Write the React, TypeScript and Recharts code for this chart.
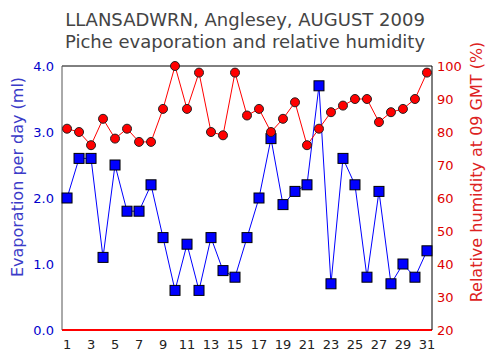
import {
  ComposedChart,
  Line,
  XAxis,
  YAxis,
  ReferenceLine,
} from 'recharts';

const days = [
  1, 2, 3, 4, 5, 6, 7, 8, 9, 10, 11, 12, 13, 14, 15, 16,
  17, 18, 19, 20, 21, 22, 23, 24, 25, 26, 27, 28, 29, 30, 31,
];

const evaporation = [
  2.0, 2.6, 2.6, 1.1, 2.5, 1.8, 1.8, 2.2, 1.4, 0.6, 1.3, 0.6, 1.4, 0.9, 0.8, 1.4,
  2.0, 2.9, 1.9, 2.1, 2.2, 3.7, 0.7, 2.6, 2.2, 0.8, 2.1, 0.7, 1.0, 0.8, 1.2,
];

const humidity = [
  81, 80, 76, 84, 78, 81, 77, 77, 87, 100, 87, 98, 80, 79, 98, 85,
  87, 80, 84, 89, 76, 81, 86, 88, 90, 90, 83, 86, 87, 90, 98,
];

const dayTicks = [1, 3, 5, 7, 9, 11, 13, 15, 17, 19, 21, 23, 25, 27, 29, 31];
const evapTicks = [0, 1, 2, 3, 4];
const rhTicks = [20, 30, 40, 50, 60, 70, 80, 90, 100];

const data = days.map((day, i) => ({
  day,
  evap: evaporation[i],
  rh: humidity[i],
}));

const FONT = '"DejaVu Sans", Verdana, sans-serif';

function SquareDot(props: any) {
  const { cx, cy } = props;
  if (cx == null || cy == null) return null;
  return (
    <rect x={cx - 5} y={cy - 5} width={10} height={10} fill="#0000ff" stroke="#000" strokeWidth={1} />
  );
}

function RoundDot(props: any) {
  const { cx, cy } = props;
  if (cx == null || cy == null) return null;
  return <circle cx={cx} cy={cy} r={4.5} fill="#ff0000" stroke="#222" strokeWidth={1} />;
}

export default function App() {
  return (
    <div style={{ position: 'absolute', left: 0, top: 0, width: 501, height: 360, background: '#fff' }}>
      <div
        style={{
          position: 'absolute',
          left: 0,
          top: 9,
          width: 490,
          textAlign: 'center',
          fontFamily: FONT,
          fontSize: 18,
          lineHeight: '22px',
          color: '#444',
        }}
      >
        LLANSADWRN, Anglesey, AUGUST 2009
        <br />
        Piche evaporation and relative humidity
      </div>
      <ComposedChart
        width={501}
        height={360}
        data={data}
        margin={{ top: 66, right: 0, bottom: 0, left: 0 }}
        style={{ position: 'absolute', left: 0, top: 0 }}
      >
        <XAxis
          dataKey="day"
          type="number"
          domain={[0.58, 31.42]}
          ticks={dayTicks}
          interval={0}
          height={30}
          tickLine={false}
          axisLine={{ stroke: '#ff0000', strokeWidth: 2 }}
          tick={{ fontSize: 13, fill: '#222', fontFamily: FONT, dy: 2 }}
        />
        <YAxis
          yAxisId="evap"
          domain={[0, 4]}
          ticks={evapTicks}
          width={62}
          tickLine={false}
          axisLine={{ stroke: '#555' }}
          tickFormatter={(v) => Number(v).toFixed(1)}
          tick={{ fontSize: 13, fill: '#0000cc', fontFamily: FONT }}
          label={{
            content: () => (
              <text
                x={18}
                y={177}
                transform="rotate(-90 18 177)"
                textAnchor="middle"
                dominantBaseline="middle"
                fill="#3b3bc8"
                fontSize={16}
                fontFamily={FONT}
              >
                Evaporation per day (ml)
              </text>
            ),
          }}
        />
        <YAxis
          yAxisId="rh"
          orientation="right"
          domain={[20, 100]}
          ticks={rhTicks}
          width={69}
          tickLine={false}
          tickSize={3}
          axisLine={{ stroke: '#000' }}
          tick={{ fontSize: 13, fill: '#dd0000', fontFamily: FONT }}
          label={{
            content: () => (
              <text
                x={477}
                y={172}
                transform="rotate(-90 477 172)"
                textAnchor="middle"
                dominantBaseline="middle"
                fill="#dd2222"
                fontSize={16}
                fontFamily={FONT}
              >
                Relative humidity at 09 GMT (%)
              </text>
            ),
          }}
        />
        <ReferenceLine yAxisId="evap" y={4} stroke="#000" />
        <Line
          yAxisId="evap"
          dataKey="evap"
          stroke="#0000ff"
          strokeWidth={1}
          dot={<SquareDot />}
          isAnimationActive={false}
        />
        <Line
          yAxisId="rh"
          dataKey="rh"
          stroke="#ff0000"
          strokeWidth={1}
          dot={<RoundDot />}
          isAnimationActive={false}
        />
      </ComposedChart>
    </div>
  );
}
